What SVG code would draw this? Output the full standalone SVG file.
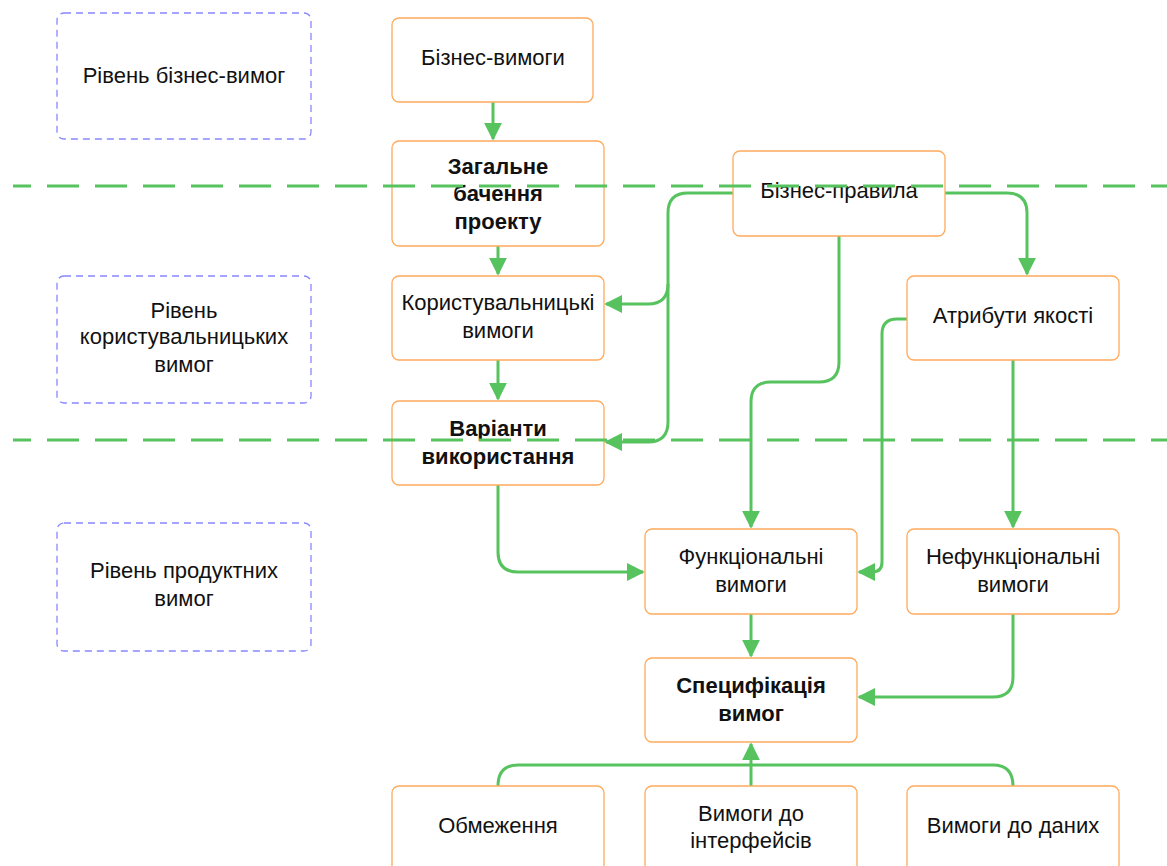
<svg xmlns="http://www.w3.org/2000/svg" width="1167" height="866" viewBox="0 0 1167 866">
<style>
.n rect{fill:#fff;stroke:#FFAA5C;stroke-width:1.3}
.l rect{fill:#fff;stroke:#8888FF;stroke-width:1.3;stroke-dasharray:7 5}
text{font-family:"Liberation Sans",Arial,sans-serif;font-size:22px;fill:#111;text-anchor:middle}
.b{font-weight:bold}
.c path{fill:none;stroke:#57C35E;stroke-width:3}
.d{fill:none;stroke:#57C35E;stroke-width:3;stroke-dasharray:32 16;stroke-dashoffset:14}
</style>
<defs>
<marker id="a" viewBox="0 0 10 10" refX="9" refY="5" markerWidth="6" markerHeight="6" orient="auto" markerUnits="strokeWidth">
<path d="M0,0 L10,5 L0,10 Z" fill="#57C35E"/>
</marker>
</defs>
<g id="lvl1" class="l"><rect x="57" y="13" width="254" height="126" rx="7"/><text x="184" y="83">Рівень бізнес-вимог</text></g>
<g id="lvl2" class="l"><rect x="57" y="276" width="254" height="127" rx="7"/><text x="184" y="318">Рівень</text><text x="184" y="344">користувальницьких</text><text x="184" y="372">вимог</text></g>
<g id="lvl3" class="l"><rect x="57" y="523" width="254" height="128" rx="7"/><text x="184" y="578">Рівень продуктних</text><text x="184" y="606">вимог</text></g>

<g id="connectors" class="c">
<path d="M493,102 V139" marker-end="url(#a)"/>
<path d="M498,246 V274" marker-end="url(#a)"/>
<path d="M498,360 V399" marker-end="url(#a)"/>
<path d="M733,193 H688 Q668,193 668,213 V284 Q668,304 648,304 H606" marker-end="url(#a)"/>
<path d="M668,284 V422 Q668,442 648,442 H606" marker-end="url(#a)"/>
<path d="M839,236 V362 Q839,382 819,382 H771 Q751,382 751,402 V527" marker-end="url(#a)"/>
<path d="M945,193 H1007 Q1027,193 1027,213 V274" marker-end="url(#a)"/>
<path d="M907,319 H897 Q882,319 882,334 V562 Q882,572 872,572 H859" marker-end="url(#a)"/>
<path d="M1013,360 V527" marker-end="url(#a)"/>
<path d="M498,485 V552 Q498,572 518,572 H643" marker-end="url(#a)"/>
<path d="M751,613 V656" marker-end="url(#a)"/>
<path d="M1013,613 V677 Q1013,697 993,697 H859" marker-end="url(#a)"/>
<path d="M498,786 Q498,765 518,765 H993 Q1013,765 1013,786"/>
<path d="M751,786 V744" marker-end="url(#a)"/>
</g>

<g id="n1" class="n"><rect x="392" y="18" width="201" height="84" rx="7"/><text x="493" y="65">Бізнес-вимоги</text></g>
<g id="n2" class="n"><rect x="392" y="141" width="212" height="105" rx="7"/><text class="b" x="498" y="174">Загальне</text><text class="b" x="498" y="201">бачення</text><text class="b" x="498" y="229">проекту</text></g>
<g id="n3" class="n"><rect x="733" y="151" width="212" height="85" rx="7"/><text x="839" y="198">Бізнес-правила</text></g>
<g id="n4" class="n"><rect x="392" y="276" width="212" height="84" rx="7"/><text x="498" y="310">Користувальницькі</text><text x="498" y="338">вимоги</text></g>
<g id="n5" class="n"><rect x="907" y="276" width="212" height="84" rx="7"/><text x="1013" y="323">Атрибути якості</text></g>
<g id="n6" class="n"><rect x="392" y="401" width="212" height="84" rx="7"/><text class="b" x="498" y="436">Варіанти</text><text class="b" x="498" y="464">використання</text></g>
<g id="n7" class="n"><rect x="645" y="529" width="212" height="85" rx="7"/><text x="751" y="564">Функціональні</text><text x="751" y="592">вимоги</text></g>
<g id="n8" class="n"><rect x="907" y="529" width="212" height="85" rx="7"/><text x="1013" y="564">Нефункціональні</text><text x="1013" y="592">вимоги</text></g>
<g id="n9" class="n"><rect x="645" y="658" width="212" height="84" rx="7"/><text class="b" x="751" y="693">Специфікація</text><text class="b" x="751" y="721">вимог</text></g>
<g id="n10" class="n"><rect x="392" y="786" width="212" height="90" rx="7"/><text x="498" y="833">Обмеження</text></g>
<g id="n11" class="n"><rect x="645" y="786" width="212" height="90" rx="7"/><text x="751" y="821">Вимоги до</text><text x="751" y="848">інтерфейсів</text></g>
<g id="n12" class="n"><rect x="907" y="786" width="212" height="90" rx="7"/><text x="1013" y="833">Вимоги до даних</text></g>

<g id="dividers">
<path class="d" d="M13,186 H1167"/>
<path class="d" d="M13,440 H1167"/>
</g>
</svg>
